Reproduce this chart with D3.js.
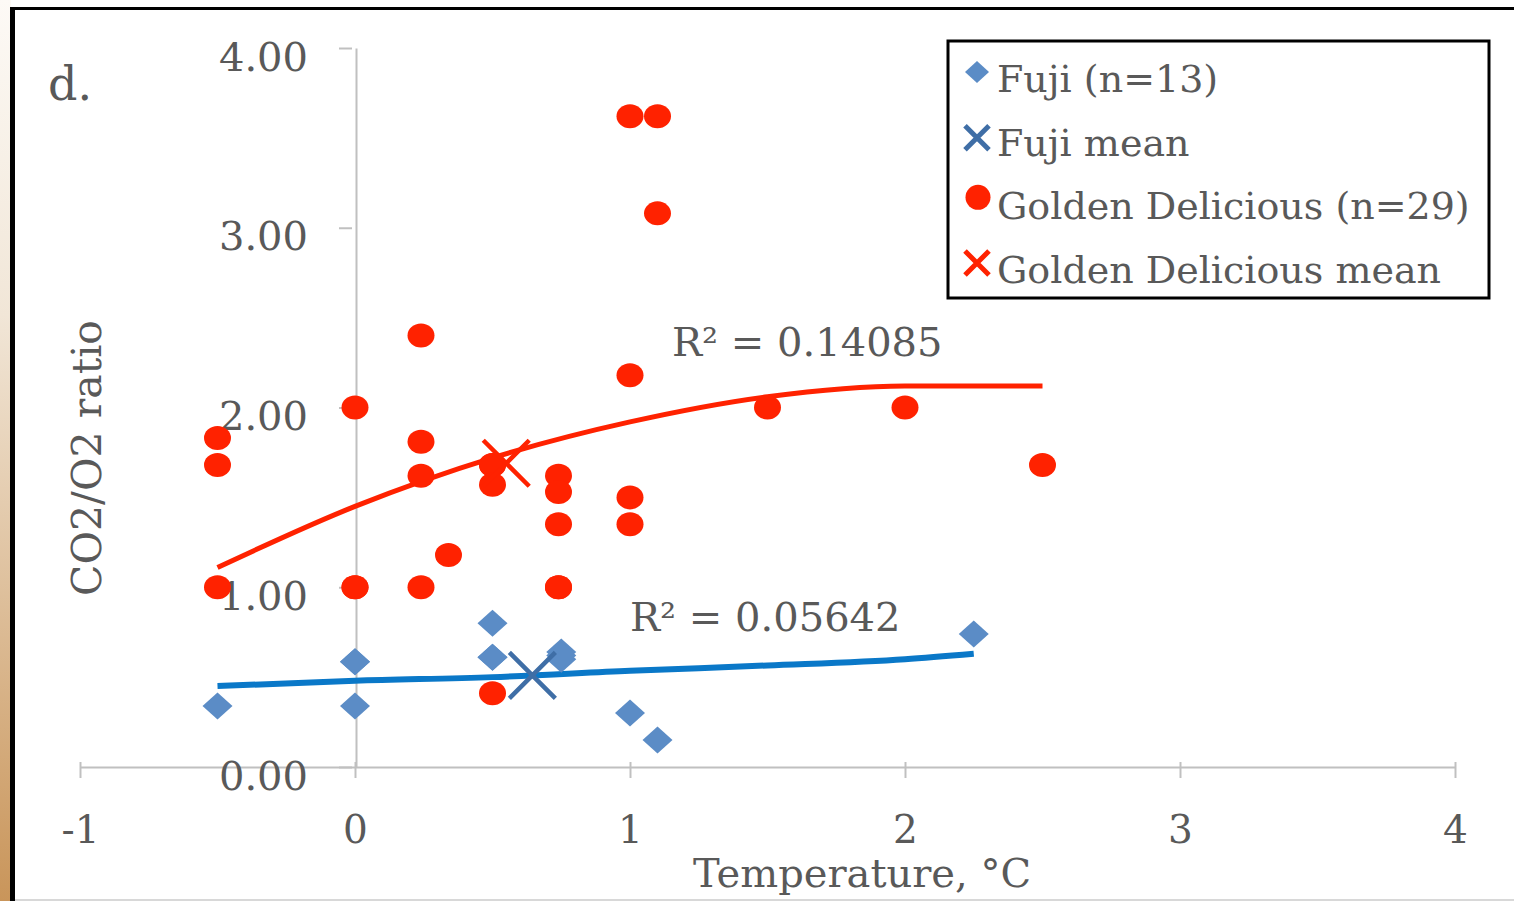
<!DOCTYPE html>
<html>
<head>
<meta charset="utf-8">
<script src="https://cdn.jsdelivr.net/npm/d3@7"></script>
<style>
  html, body { margin: 0; padding: 0; background: #fff; }
  svg { display: block; }
  text { font-family: "DejaVu Serif", serif; fill: #595959; }
</style>
</head>
<body>
<script>
// values
const xTicks = [-1, 0, 1, 2, 3, 4];
const yTicks = [0, 1, 2, 3, 4];

const fujiTemp = [-0.5, 0, 0, 0, 0.5, 0.5, 0.5, 0.75, 0.75, 0.75, 1, 1.1, 2.25];
const fujiRatio = [0.34, 0.585, 0.585, 0.34, 0.80, 0.61, 0.61, 0.64, 0.60, 0.62, 0.30, 0.15, 0.74];

const goldenTemp = [-0.5, -0.5, -0.5, 0, 0, 0, 0.24, 0.24, 0.24, 0.24, 0.34, 0.5, 0.5, 0.5, 0.5,
    0.74, 0.74, 0.74, 0.74, 0.74, 1, 1, 1, 1, 1.1, 1.1, 1.5, 2, 2.5];
const goldenRatio = [1.83, 1.68, 1.00, 2.00, 1.00, 1.00, 2.40, 1.81, 1.62, 1.00, 1.18, 1.68, 1.68, 1.57, 0.41,
    1.62, 1.53, 1.35, 1.00, 1.00, 3.62, 2.18, 1.50, 1.35, 3.62, 3.08, 2.00, 2.00, 1.68];

const fujiMean = [0.645, 0.51];
const goldenMean = [0.55, 1.69];

// trend lines, read at a few temperatures
const fujiTrendTemp = [-0.5, 0, 0.5, 1, 1.5, 2, 2.25];
const fujiTrendRatio = [0.45, 0.48, 0.50, 0.535, 0.565, 0.60, 0.63];
const goldenTrendTemp = [-0.5, 0, 0.5, 1, 1.5, 2, 2.5];
const goldenTrendRatio = [1.11, 1.45, 1.72, 1.92, 2.06, 2.12, 2.12];

const fujiR2 = "R² = 0.05642";
const goldenR2 = "R² = 0.14085";

const legendLabels = ["Fuji (n=13)", "Fuji mean", "Golden Delicious (n=29)", "Golden Delicious mean"];

const red = "#ff2200";
const blue = "#5b8cc6";
const blueMean = "#3f6ea6";
const blueLine = "#0a78c8";
const axisGrey = "#c0c0c0";

const width = 1514, height = 901;
const svg = d3.select("body").append("svg").attr("width", width).attr("height", height);

// page frame: tan gradient strip on the left, black border
const defs = svg.append("defs");
const tan = defs.append("linearGradient")
    .attr("id", "tan").attr("x1", "0%").attr("y1", "0%").attr("x2", "0%").attr("y2", "100%");
tan.append("stop").attr("offset", "0%").attr("stop-color", "#fdfaf6");
tan.append("stop").attr("offset", "35%").attr("stop-color", "#f1e6d7");
tan.append("stop").attr("offset", "100%").attr("stop-color", "#c9955a");

svg.append("rect").attr("x", 0).attr("y", 0).attr("width", 11).attr("height", height).attr("fill", "url(#tan)");
svg.append("line").attr("x1", 12.5).attr("x2", 12.5).attr("y1", 7).attr("y2", height)
    .attr("stroke", "#000").attr("stroke-width", 5);
svg.append("line").attr("x1", 10).attr("x2", width).attr("y1", 8.5).attr("y2", 8.5)
    .attr("stroke", "#000").attr("stroke-width", 3);
svg.append("line").attr("x1", 15).attr("x2", width).attr("y1", 900).attr("y2", 900)
    .attr("stroke", "#d8d8d8").attr("stroke-width", 2);

const x = d3.scaleLinear().domain([-1, 4]).range([80, 1455]);
const y = d3.scaleLinear().domain([0, 4]).range([767, 48]);

// x axis crosses at y = 0; plain hyphen for negatives, as in the original
const xAxis = svg.append("g")
    .attr("transform", `translate(0,${y(0)})`)
    .call(d3.axisBottom(x).tickValues(xTicks).tickFormat(d => String(d)).tickSizeOuter(0));
xAxis.select(".domain").attr("stroke", axisGrey).attr("stroke-width", 2);
xAxis.selectAll(".tick line").attr("y1", -5).attr("y2", 11).attr("stroke", axisGrey).attr("stroke-width", 2);
xAxis.selectAll(".tick text")
    .attr("y", 76).attr("dy", 0)
    .style("font-family", "'DejaVu Serif', serif").style("font-size", "39px").attr("fill", "#595959");

// y axis crosses at x = 0
const yAxis = svg.append("g")
    .attr("transform", `translate(${x(0) + 1},0)`)
    .call(d3.axisLeft(y).tickValues(yTicks).tickFormat(d3.format(".2f"))
        .tickSize(14).tickPadding(34).tickSizeOuter(0));
yAxis.select(".domain").attr("stroke", axisGrey).attr("stroke-width", 2);
yAxis.selectAll(".tick line").attr("x1", -4).attr("x2", -17).attr("stroke", axisGrey).attr("stroke-width", 2);
yAxis.selectAll(".tick text")
    .attr("dy", "0.55em")
    .style("font-family", "'DejaVu Serif', serif").style("font-size", "40px").attr("fill", "#595959");

// titles
svg.append("text").attr("x", 48).attr("y", 100).style("font-size", "46px").text("d.");
svg.append("text")
    .attr("transform", `translate(101,${458}) rotate(-90)`)
    .attr("text-anchor", "middle").style("font-size", "41px")
    .text("CO2/O2 ratio");
svg.append("text")
    .attr("x", 862).attr("y", 887).attr("text-anchor", "middle").style("font-size", "40px")
    .text("Temperature, °C");

// trend lines
const trend = d3.line().x(d => x(d[0])).y(d => y(d[1])).curve(d3.curveMonotoneX);
svg.append("path")
    .datum(d3.zip(goldenTrendTemp, goldenTrendRatio))
    .attr("d", trend).attr("fill", "none").attr("stroke", red).attr("stroke-width", 5);
svg.append("path")
    .datum(d3.zip(fujiTrendTemp, fujiTrendRatio))
    .attr("d", trend).attr("fill", "none").attr("stroke", blueLine).attr("stroke-width", 6);

// markers
function diamond(g, cx, cy, hw, hh) {
    g.append("path")
        .attr("d", `M${cx},${cy - hh}L${cx + hw},${cy}L${cx},${cy + hh}L${cx - hw},${cy}Z`)
        .attr("fill", blue);
}
function cross(g, cx, cy, h, color, w) {
    g.append("path")
        .attr("d", `M${cx - h},${cy - h}L${cx + h},${cy + h}M${cx - h},${cy + h}L${cx + h},${cy - h}`)
        .attr("stroke", color).attr("stroke-width", w).attr("fill", "none");
}

const fujiG = svg.append("g");
d3.zip(fujiTemp, fujiRatio).forEach(d => diamond(fujiG, x(d[0]), y(d[1]), 15, 13.5));

const goldenG = svg.append("g");
goldenG.selectAll("ellipse")
    .data(d3.zip(goldenTemp, goldenRatio))
    .join("ellipse")
    .attr("cx", d => x(d[0])).attr("cy", d => y(d[1]))
    .attr("rx", 13.5).attr("ry", 12)
    .attr("fill", red);

cross(svg, x(goldenMean[0]), y(goldenMean[1]), 23, red, 4.5);
cross(svg, x(fujiMean[0]), y(fujiMean[1]), 23, blueMean, 4.5);

// R² labels
svg.append("text").attr("x", 672).attr("y", 356).style("font-size", "40px").text(goldenR2);
svg.append("text").attr("x", 630).attr("y", 631).style("font-size", "40px").text(fujiR2);

// legend
const legend = svg.append("g");
legend.append("rect")
    .attr("x", 948).attr("y", 41).attr("width", 541).attr("height", 257)
    .attr("fill", "#fff").attr("stroke", "#000").attr("stroke-width", 3);
const rowY = d3.scalePoint().domain(legendLabels).range([92, 283]);
legendLabels.forEach(label => {
    legend.append("text").attr("x", 997).attr("y", rowY(label)).style("font-size", "38px").text(label);
});
diamond(legend, 977, rowY(legendLabels[0]) - 20, 12, 11);
cross(legend, 977, rowY(legendLabels[1]) - 18, 12, blueMean, 5);
legend.append("circle").attr("cx", 978).attr("cy", rowY(legendLabels[2]) - 22).attr("r", 12.5).attr("fill", red);
cross(legend, 977, rowY(legendLabels[3]) - 20, 12, red, 5);
</script>
</body>
</html>
